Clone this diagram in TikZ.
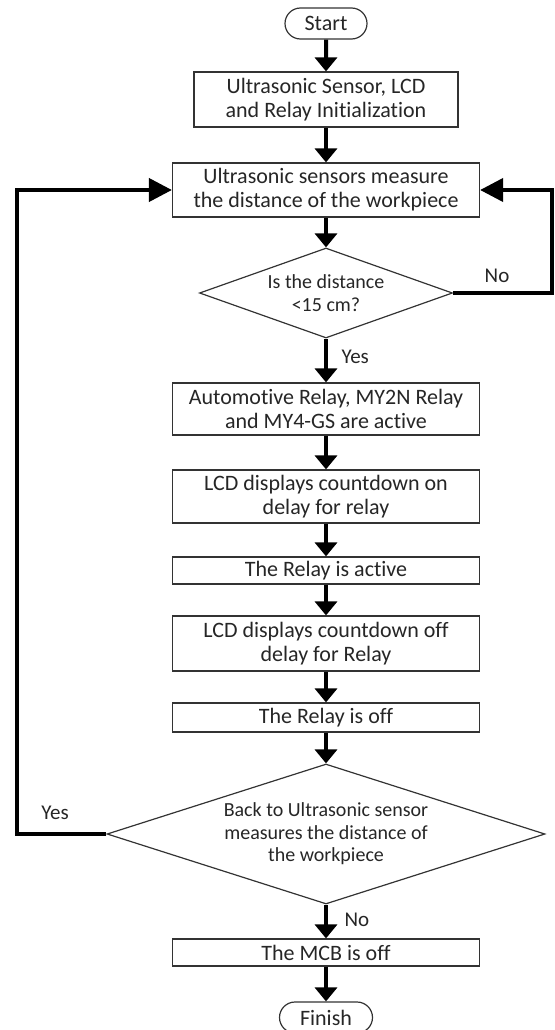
\documentclass[tikz,border=0pt]{standalone}
\usepackage{fontspec}
\setmainfont{Carlito}[Ligatures=NoCommon]
\usetikzlibrary{arrows.meta, shapes.geometric, shapes.misc}

\begin{document}
\begin{tikzpicture}[x=1pt, y=-1pt, font=\fontsize{22}{24}\selectfont]

  % Define styles
  \tikzset{
    process/.style={draw=black!80, line width=1.2pt, fill=white, align=center,
      text=black!85, inner sep=2pt, minimum width=307pt},
    terminal/.style={rounded rectangle, draw=black!80, line width=1.2pt,
      minimum height=31pt, inner sep=1pt, text=black!85},
    decision/.style={diamond, draw=black!80, line width=1.2pt, align=center,
      inner sep=0pt, text=black!85, font=\fontsize{20}{22.5}\selectfont},
    flow/.style={-{Triangle[length=14pt,width=22pt]}, line width=4pt},
    loop arrow/.style={-{Triangle[length=23pt,width=23pt]}, line width=4pt},
    branch label/.style={font=\fontsize{21}{24}\selectfont, text=black!85}
  }

  \useasboundingbox (0,0) rectangle (554,1030);

  %% Start and initialization
  \node[terminal, minimum width=84pt] (start) at (326,23.5) {Start};
  \node[process, minimum width=264pt, minimum height=55pt] (init) at (326,99.5)
    {Ultrasonic Sensor, LCD\\and Relay Initialization};

  %% Measuring and first check
  \node[process, minimum height=54pt] (measure) at (326,190)
    {Ultrasonic sensors measure\\the distance of the workpiece};
  \node[decision, shape aspect=2.81, minimum width=253pt, minimum height=90pt]
    (check) at (326,293) {Is the distance\\<15 cm?};

  %% Relay steps
  \node[process, minimum height=52pt] (active) at (326,409)
    {Automotive Relay, MY2N Relay\\and MY4-GS are active};
  \node[process, minimum height=53pt] (ondelay) at (326,496.5)
    {LCD displays countdown on\\delay for relay};
  \node[process, minimum height=27pt] (relayon) at (326,570.5)
    {The Relay is active};
  \node[process, minimum height=55pt] (offdelay) at (326,643.5)
    {LCD displays countdown off\\delay for Relay};
  \node[process, minimum height=29pt] (relayoff) at (326,717.5)
    {The Relay is off};

  %% Second check and end
  \node[decision, shape aspect=3.13, minimum width=438pt, minimum height=140pt]
    (back) at (326,834)
    {Back to Ultrasonic sensor\\measures the distance of\\the workpiece};
  \node[process, minimum height=27pt] (mcb) at (326,952.5)
    {The MCB is off};
  \node[terminal, minimum width=95pt] (finish) at (326,1017.5) {Finish};

  % Main flow
  \draw[flow] (start) -- (init);
  \draw[flow] (init) -- (measure);
  \draw[flow] (measure) -- (check);
  \draw[flow] (check) -- (active);
  \draw[flow] (active) -- (ondelay);
  \draw[flow] (ondelay) -- (relayon);
  \draw[flow] (relayon) -- (offdelay);
  \draw[flow] (offdelay) -- (relayoff);
  \draw[flow] (relayoff) -- (back);
  \draw[flow] (back) -- (mcb);
  \draw[flow] (mcb) -- (finish);

  % Loops back to measuring
  \draw[loop arrow] (check.east) -- ++(99,0) |- (measure.east);
  \draw[loop arrow] (back.west) -- ++(-89,0) |- (measure.west);

  % Branch labels
  \node[branch label, anchor=west] at (338,357) {Yes};
  \node[branch label] at (497,276) {No};
  \node[branch label] at (55,813) {Yes};
  \node[branch label, anchor=west] at (341,920) {No};

\end{tikzpicture}
\end{document}
